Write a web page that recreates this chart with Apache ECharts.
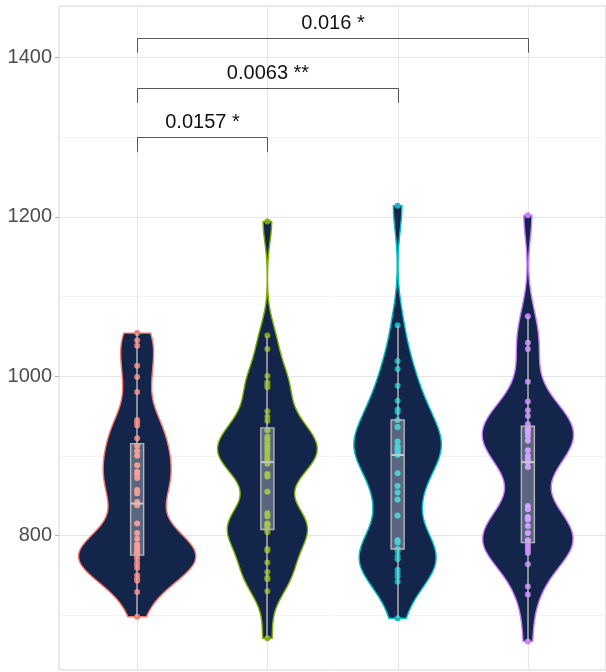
<!DOCTYPE html>
<html>
<head>
<meta charset="utf-8">
<script src="https://cdn.jsdelivr.net/npm/echarts@6/dist/echarts.min.js"></script>
<style>
  html, body { margin: 0; padding: 0; background: #ffffff; }
  #chart { width: 606px; height: 672px; }
</style>
</head>
<body>
<div id="chart"></div>
<script>
// ---- data ----
const groupNames = ['Group 1', 'Group 2', 'Group 3', 'Group 4'];
const groupColors = ['#F8766D', '#7CAE00', '#00BFC4', '#C77CFF'];

const valuesG1 = [698, 729, 743, 746, 750, 759, 763, 766, 771, 773,
                  776, 778, 780, 782, 785, 789, 796, 803, 815, 838,
                  842, 853, 857, 872, 877, 880, 888, 900, 906, 913,
                  922, 938, 942, 945, 980, 999, 1013, 1038, 1045, 1054];
const valuesG2 = [671, 730, 745, 747, 754, 766, 781, 783, 804, 806,
                  808, 812, 814, 815, 824, 828, 855, 874, 877, 890,
                  894, 897, 901, 905, 909, 912, 916, 920, 924, 932,
                  944, 949, 956, 986, 989, 992, 1000, 1034, 1051, 1194];
const valuesG3 = [696, 742, 748, 753, 757, 770, 774, 780, 783, 791,
                  794, 825, 845, 854, 862, 878, 901, 903, 906, 908,
                  910, 912, 918, 936, 945, 955, 958, 969, 988, 1009,
                  1019, 1064, 1214];
const valuesG4 = [667, 726, 736, 764, 778, 781, 784, 786, 789, 791,
                  794, 803, 812, 820, 823, 833, 837, 886, 892, 895,
                  900, 907, 919, 925, 930, 933, 935, 937, 940, 950,
                  957, 968, 993, 1034, 1042, 1075, 1202];

const yTicks = [800, 1000, 1200, 1400];
const yMinorBreaks = [700, 900, 1100, 1300];

// pairwise comparisons: [group a, group b], bracket height, label
const comparisonPairs = [[1, 2], [1, 3], [1, 4]];
const comparisonY = [1300, 1362, 1425];
const comparisonLabels = ['0.0157 *', '0.0063 **', '0.016 *'];

// ---- statistics ----
const allGroups = [valuesG1, valuesG2, valuesG3, valuesG4];
const BW_ADJUST = 0.62;

function sortedCopy(a) { return a.slice().sort((p, q) => p - q); }
function quantile7(s, p) {
  const h = (s.length - 1) * p;
  const lo = Math.floor(h), hi = Math.ceil(h);
  return s[lo] + (h - lo) * (s[hi] - s[lo]);
}
function sdev(a) {
  const m = a.reduce((t, v) => t + v, 0) / a.length;
  return Math.sqrt(a.reduce((t, v) => t + (v - m) * (v - m), 0) / (a.length - 1));
}
function bwNrd0(a) {
  const s = sortedCopy(a);
  const iqr = quantile7(s, 0.75) - quantile7(s, 0.25);
  let lo = Math.min(sdev(a), iqr / 1.34);
  if (!(lo > 0)) lo = sdev(a) || 1;
  return 0.9 * lo * Math.pow(a.length, -0.2);
}
function kde(a) {
  const s = sortedCopy(a);
  const bw = bwNrd0(a) * BW_ADJUST;
  const lo = s[0], hi = s[s.length - 1];
  const n = 512, ys = [], ds = [];
  for (let k = 0; k < n; k++) {
    const y = lo + (hi - lo) * k / (n - 1);
    let d = 0;
    for (const v of s) {
      const z = (y - v) / bw;
      d += Math.exp(-0.5 * z * z);
    }
    ys.push(y);
    ds.push(d / (s.length * bw * Math.sqrt(2 * Math.PI)));
  }
  return { ys, ds };
}
function boxStats(a) {
  const s = sortedCopy(a);
  const q1 = quantile7(s, 0.25), med = quantile7(s, 0.5), q3 = quantile7(s, 0.75);
  const iqr = q3 - q1;
  const lowFence = q1 - 1.5 * iqr, highFence = q3 + 1.5 * iqr;
  const wLo = s.find(v => v >= lowFence);
  const wHi = s.slice().reverse().find(v => v <= highFence);
  return { q1, med, q3, wLo, wHi };
}

const densities = allGroups.map(kde);
const maxDensity = Math.max(...densities.map(d => Math.max(...d.ds)));
const stats = allGroups.map(boxStats);

const VIOLIN_HALF = 0.45;   // half of violin width (x units)
const BOX_HALF = 0.05;      // half of box width (x units)
const TIP = 19;             // bracket tip length (y units)
const NAVY = '#13254A';
const FONT = '"Liberation Sans", Arial, sans-serif';

const series = [];

// background grid lines
series.push({
  type: 'custom', silent: true, z: 0, clip: false,
  data: [[1, 800]], encode: { x: 0, y: 1 },
  renderItem(params, api) {
    const cs = params.coordSys;
    const children = [];
    const hLine = (v, color) => {
      const y = Math.round(api.coord([1, v])[1]) + 0.5;
      children.push({ type: 'line', shape: { x1: cs.x, y1: y, x2: cs.x + cs.width, y2: y },
        style: { stroke: color, lineWidth: 1 } });
    };
    yMinorBreaks.forEach(v => hLine(v, '#f3f3f3'));
    yTicks.forEach(v => hLine(v, '#e6e6e6'));
    groupNames.forEach((_, i) => {
      const x = Math.round(api.coord([i + 1, 800])[0]) + 0.5;
      children.push({ type: 'line', shape: { x1: x, y1: cs.y, x2: x, y2: cs.y + cs.height },
        style: { stroke: '#e6e6e6', lineWidth: 1 } });
    });
    return { type: 'group', children };
  }
});

// violins
series.push({
  type: 'custom', silent: true, z: 2,
  data: groupNames.map((_, i) => [i + 1, stats[i].med]),
  encode: { x: 0, y: 1 },
  renderItem(params, api) {
    const gi = params.dataIndex;
    const d = densities[gi];
    const cx = gi + 1;
    const pts = [];
    for (let k = 0; k < d.ys.length; k++) {
      pts.push(api.coord([cx + d.ds[k] / maxDensity * VIOLIN_HALF, d.ys[k]]));
    }
    for (let k = d.ys.length - 1; k >= 0; k--) {
      pts.push(api.coord([cx - d.ds[k] / maxDensity * VIOLIN_HALF, d.ys[k]]));
    }
    return { type: 'polygon', shape: { points: pts },
      style: { fill: NAVY, stroke: groupColors[gi], lineWidth: 1.4 } };
  }
});

// observations
allGroups.forEach((vals, gi) => {
  series.push({
    type: 'scatter', name: groupNames[gi], z: 3, silent: true,
    symbolSize: 6,
    itemStyle: { color: groupColors[gi], opacity: 0.95 },
    data: vals.map(v => [gi + 1, v])
  });
});

// box plots
series.push({
  type: 'custom', silent: true, z: 4,
  data: groupNames.map((_, i) => [i + 1, stats[i].med]),
  encode: { x: 0, y: 1 },
  renderItem(params, api) {
    const gi = params.dataIndex;
    const st = stats[gi];
    const cx = gi + 1;
    const tl = api.coord([cx - BOX_HALF, st.q3]);
    const br = api.coord([cx + BOX_HALF, st.q1]);
    const c = api.coord([cx, st.med]);
    const hi = api.coord([cx, st.wHi]);
    const lo = api.coord([cx, st.wLo]);
    const x = Math.round(c[0]);
    const lineColor = '#bdbdbd';
    return { type: 'group', children: [
      { type: 'line', shape: { x1: x, y1: hi[1], x2: x, y2: tl[1] }, style: { stroke: lineColor, lineWidth: 1.4 } },
      { type: 'line', shape: { x1: x, y1: br[1], x2: x, y2: lo[1] }, style: { stroke: lineColor, lineWidth: 1.4 } },
      { type: 'rect', shape: { x: tl[0], y: tl[1], width: br[0] - tl[0], height: br[1] - tl[1] },
        style: { fill: 'rgba(255,255,255,0.3)', stroke: '#b5b5b5', lineWidth: 1.4 } },
      { type: 'line', shape: { x1: tl[0], y1: c[1], x2: br[0], y2: c[1] }, style: { stroke: '#c8c8c8', lineWidth: 2 } }
    ] };
  }
});

// significance brackets
series.push({
  type: 'custom', silent: true, z: 5, clip: false,
  data: comparisonPairs.map((p, i) => [p[0], comparisonY[i]]),
  encode: { x: 0, y: 1 },
  renderItem(params, api) {
    const i = params.dataIndex;
    const [a, b] = comparisonPairs[i];
    const yv = comparisonY[i];
    const p1 = api.coord([a, yv - TIP]);
    const p2 = api.coord([a, yv]);
    const p3 = api.coord([b, yv]);
    const p4 = api.coord([b, yv - TIP]);
    const xa = Math.round(p1[0]) + 0.5, xb = Math.round(p3[0]) + 0.5, yl = Math.round(p2[1]) + 0.5;
    return { type: 'group', children: [
      { type: 'polyline', shape: { points: [[xa, p1[1]], [xa, yl], [xb, yl], [xb, p4[1]]] },
        style: { stroke: '#555555', lineWidth: 1, fill: null } },
      { type: 'text', style: { text: comparisonLabels[i], x: (xa + xb) / 2, y: yl - 15,
        textAlign: 'center', textVerticalAlign: 'middle', align: 'center', verticalAlign: 'middle',
        fontSize: 20, fontFamily: FONT, fill: '#111111' } }
    ] };
  }
});

const chart = echarts.init(document.getElementById('chart'), null, { renderer: 'canvas' });
chart.setOption({
  animation: false,
  backgroundColor: '#ffffff',
  grid: { left: 59, right: 0, top: 6, bottom: 2, show: true, borderColor: '#d3d3d3', borderWidth: 1, backgroundColor: 'transparent' },
  xAxis: {
    type: 'value', min: 0.4, max: 4.6,
    axisLine: { show: false }, axisTick: { show: false }, axisLabel: { show: false }, splitLine: { show: false }
  },
  yAxis: {
    type: 'value', min: 631.1, max: 1464.6,
    axisLine: { show: false },
    splitLine: { show: false },
    axisTick: { show: true, length: 4, customValues: yTicks, lineStyle: { color: '#b3b3b3' } },
    axisLabel: { customValues: yTicks, fontSize: 20, color: '#4d4d4d', margin: 7, fontFamily: FONT,
      formatter: v => String(v) }
  },
  series
});
</script>
</body>
</html>
